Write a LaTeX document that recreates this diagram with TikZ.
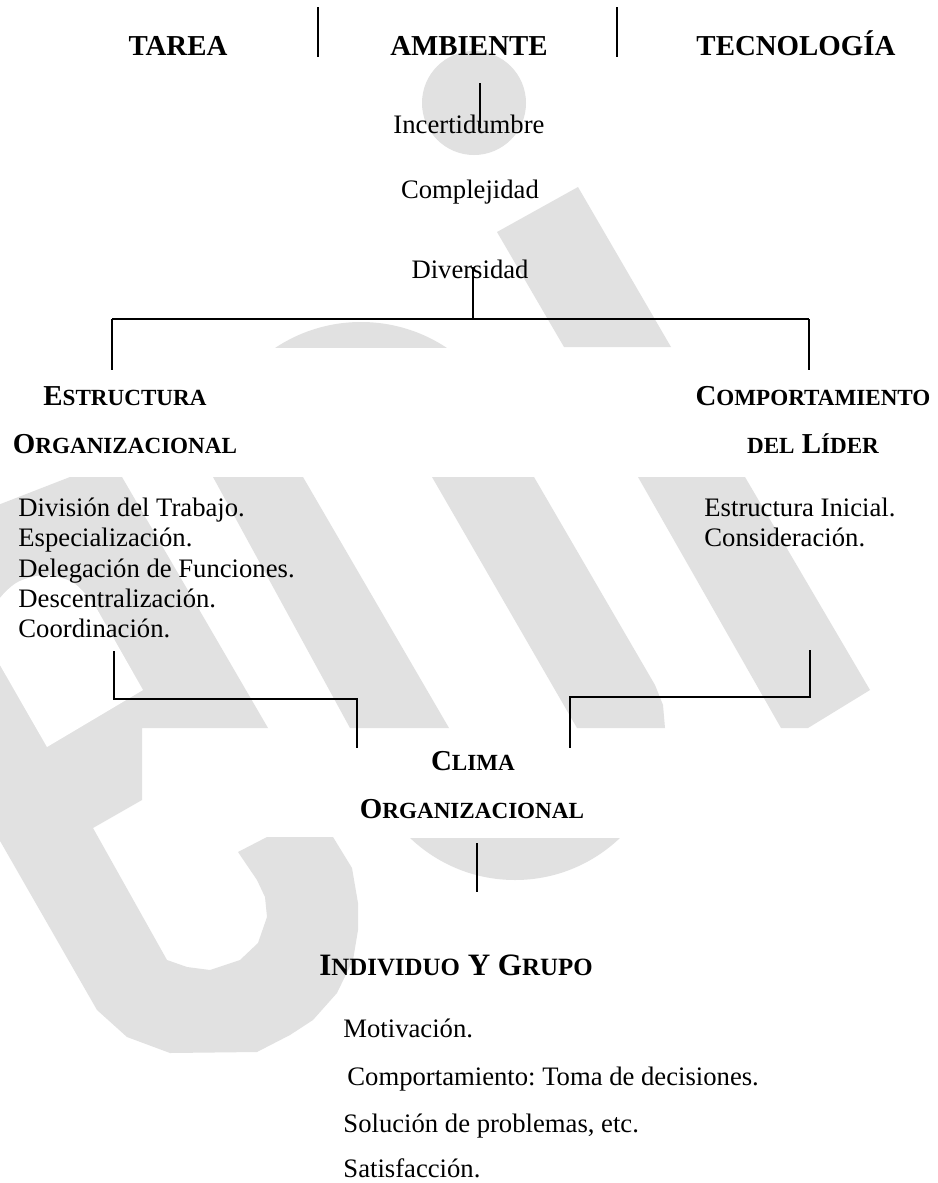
\documentclass[tikz,border=0pt]{standalone}
\usepackage{fontspec}
\setmainfont{Liberation Serif}
\frenchspacing
\definecolor{wm}{RGB}{225,225,225}
\newcommand{\smallc}[2]{{\fontsize{#1}{#1}\selectfont #2}}
\tikzset{
  hd/.style={font=\fontsize{13pt}{15pt}\selectfont\bfseries, inner sep=0pt, anchor=base},
  hdbig/.style={font=\fontsize{14pt}{16pt}\selectfont\bfseries, inner sep=0pt, anchor=base},
  body/.style={font=\fontsize{12pt}{14pt}\selectfont, inner sep=0pt, anchor=base},
  bodyl/.style={body, anchor=base west},
  ln/.style={line width=0.8pt},
  wmark/.style={fill=wm, draw=none}
}
\begin{document}
\begin{tikzpicture}[x={(0.45pt,0)}, y={(0,-0.45pt)}]
\useasboundingbox (0,0) rectangle (938,1183);
\fill[white] (0,0) rectangle (938,1183);
% ---------------- watermark ----------------
\begin{scope}
\clip (0,0) rectangle (938,1183);
\fill[wmark] (474,103) circle[radius=52];
\fill[wmark] (497,232) -- (578,187) -- (671,347) -- (564,347) -- cycle;
\begin{scope}
  \clip (0,0) rectangle (938,347);
  \fill[wmark] (361,477) circle[radius=155];
\end{scope}
\begin{scope}
  \clip (0,838) rectangle (938,1183);
  \fill[wmark] (515,728) circle[radius=152];
\end{scope}
\fill[wmark] (213,477) -- (303,477) -- (449,728) -- (350,728) -- cycle;
\fill[wmark] (432,477) -- (534,477) -- (655,685) -- (663,705) -- (665,728) -- (577,728) -- cycle;
\fill[wmark] (638,477) -- (745,477) -- (870,690) -- (808,728) -- (781,728) -- cycle;
\fill[wmark] (-20,512) -- (70,477) -- (122,477) -- (268,728) -- (142,728) -- (142,800) -- (93,828)
  -- (167,960) -- (187,967) -- (210,970) -- (240,960) -- (258,943) -- (267,917) -- (265,897)
  -- (257,880) -- (238,852) -- (267,837) -- (333,837) -- (352,868) -- (358,903) -- (358,930)
  -- (353,960) -- (337,993) -- (313,1020) -- (290,1035) -- (257,1052) -- (170,1053)
  -- (127,1037) -- (97,1010) -- (-20,806) -- cycle;
\fill[white] (93.5,603) -- (143,690) -- (47,747) -- (-3.5,659)
  plot[smooth] coordinates {(-3.5,659) (-11,631) (-3.5,603) (17,582.5) (45,575) (73,582.5) (93.5,603)} -- cycle;
\end{scope}
% ---------------- top row ----------------
\node[hd] (tarea) at (178,55) {TAREA};
\node[hd] (amb) at (469,55) {AMBIENTE};
\node[hd] (tec) at (796,55) {TECNOLOGÍA};
\coordinate (s1t) at (318,7);  \coordinate (s1b) at (318,57);
\coordinate (s2t) at (617,7);  \coordinate (s2b) at (617,57);
\draw[ln] (s1t) -- (s1b);
\draw[ln] (s2t) -- (s2b);
% ---------------- environment ----------------
\node[body] (inc) at (469,133) {Incertidumbre};
\node[body] (comp) at (470,198) {Complejidad};
\node[body] (div) at (470,278) {Diversidad};
\coordinate (a1) at (480,83); \coordinate (a2) at (480,128);
\draw[ln] (a1) -- (a2);
\coordinate (d1) at (473,267); \coordinate (d2) at (473,319);
\draw[ln] (d1) -- (d2);
\coordinate (hl) at (112,319); \coordinate (hr) at (809,319);
\coordinate (hl2) at (112,370); \coordinate (hr2) at (809,370);
\draw[ln] (hl) -- (hr);
\draw[ln] (hl) -- (hl2);
\draw[ln] (hr) -- (hr2);
% ---------------- structure ----------------
\node[hd] (est1) at (125,405) {E\smallc{10.4pt}{STRUCTURA}};
\node[hd] (est2) at (125,453) {O\smallc{10.4pt}{RGANIZACIONAL}};
\node[hd] (lid1) at (813,405) {C\smallc{10.4pt}{OMPORTAMIENTO}};
\node[hd] (lid2) at (813,453) {\smallc{10.4pt}{DEL} L\smallc{10.4pt}{ÍDER}};
\node[bodyl] (e1) at (18,516) {División del Trabajo.};
\node[bodyl] (e2) at (18,546) {Especialización.};
\node[bodyl] (e3) at (18,577) {Delegación de Funciones.};
\node[bodyl] (e4) at (18,607) {Descentralización.};
\node[bodyl] (e5) at (18,637) {Coordinación.};
\node[bodyl] (l1) at (704,516) {Estructura Inicial.};
\node[bodyl] (l2) at (704,546) {Consideración.};
% brackets
\coordinate (b1) at (114,651); \coordinate (b2) at (114,699);
\coordinate (b3) at (357,699); \coordinate (b4) at (357,748);
\draw[ln] (b1) -- (b2) -- (b3) -- (b4);
\coordinate (c1) at (810,650); \coordinate (c2) at (810,697);
\coordinate (c3) at (570,697); \coordinate (c4) at (570,748);
\draw[ln] (c1) -- (c2) -- (c3) -- (c4);
% ---------------- climate ----------------
\node[hd] (cl1) at (473,770) {C\smallc{10.4pt}{LIMA}};
\node[hd] (cl2) at (472,818) {O\smallc{10.4pt}{RGANIZACIONAL}};
\coordinate (v1) at (477,843); \coordinate (v2) at (477,892);
\draw[ln] (v1) -- (v2);
\node[hdbig] (ind) at (456,975) {I\smallc{11.2pt}{NDIVIDUO} Y G\smallc{11.2pt}{RUPO}};
\node[bodyl] (i1) at (343,1037) {Motivación.};
\node[bodyl] (i2) at (347,1085) {Comportamiento: Toma de decisiones.};
\node[bodyl] (i3) at (343,1132) {Solución de problemas, etc.};
\node[bodyl] (i4) at (343,1177) {Satisfacción.};
\end{tikzpicture}
\end{document}
